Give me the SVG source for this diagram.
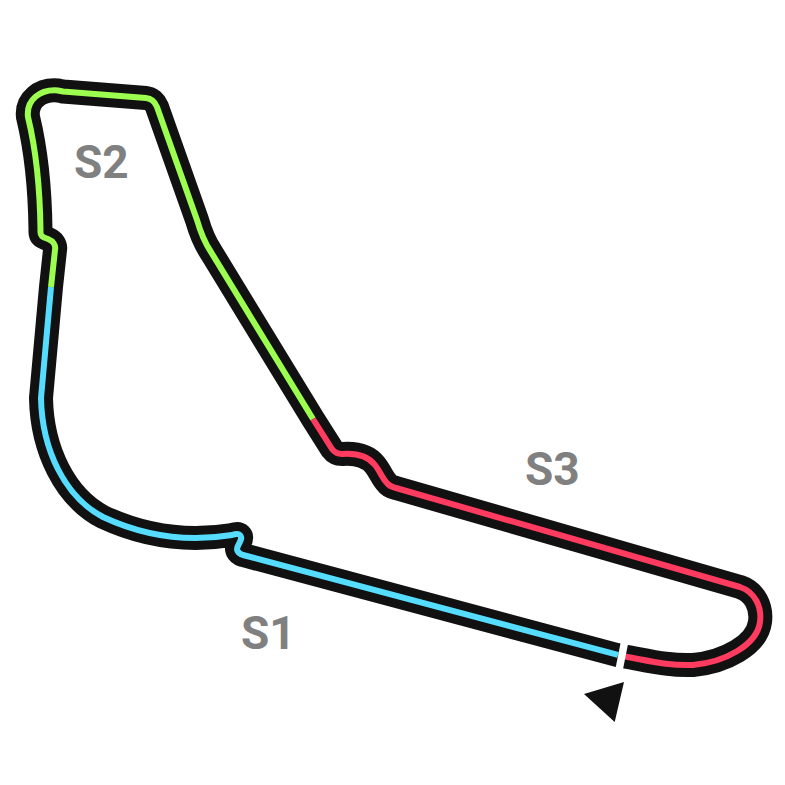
<svg xmlns="http://www.w3.org/2000/svg" width="785" height="785" viewBox="0 0 785 785">
<style>
.t{fill:none;stroke-linecap:butt;stroke-linejoin:round}
.c{stroke-width:6}
.l{font-family:Roboto,"Liberation Sans",sans-serif;font-weight:700;font-size:46px;fill:#808080}
</style>
<rect width="785" height="785" fill="#fff"/>
<g id="track">
<path id="outline" class="t" stroke="#111" stroke-width="24" d="M617 655 L243 555 C237 553 236 549 238 546 C240 541 243 538 240 535 C238 533 235 534 232 535 C195 541 150 539 103 517 C65 497 42 450 41 398 L51 287 L55 250 C56 245 53 241 48 239 C42 237 40 236 40.500 230 C40 190 36 150 28 117 C26 100 40 89 58 90.500 C60 91 61 91 63 91.500 L146 98 C151 98.500 155 102 157 107 L197 220 C201 234 205 243 211 252 L313 419 L332 449 C335 453 338 454 342 454 C355 453 367 455 375 465 C380 471 382 478 387 483 C389 486 392 487 396 488 L740 587 C755 592 762 607 760 622 C757 645 725 662 693 665 C670 666 650 661 625 656.500 L617 655 Z"/>
<path id="sector1" class="t c" stroke="#55dcff" d="M618 654.800 L243 555 C237 553 236 549 238 546 C240 541 243 538 240 535 C238 533 235 534 232 535 C195 541 150 539 103 517 C65 497 42 450 41 398 L51 287"/>
<path id="sector2" class="t c" stroke="#9cff4f" d="M51 287 L55 250 C56 245 53 241 48 239 C42 237 40 236 40.500 230 C40 190 36 150 28 117 C26 100 40 89 58 90.500 C60 91 61 91 63 91.500 L146 98 C151 98.500 155 102 157 107 L197 220 C201 234 205 243 211 252 L313 419"/>
<path id="sector3" class="t c" stroke="#ff3b5f" d="M313 419 L332 449 C335 453 338 454 342 454 C355 453 367 455 375 465 C380 471 382 478 387 483 C389 486 392 487 396 488 L740 587 C755 592 762 607 760 622 C757 645 725 662 693 665 C670 666 650 661 625 656.500"/>
<path id="start-line" fill="none" stroke="#fff" stroke-width="7.500" d="M625 640 L619 670"/>
</g>
<polygon id="start-arrow" fill="#111" points="584,694 624,682 614.700,722"/>
<g id="labels">
<text class="l" x="74" y="178">S2</text>
<text class="l" x="241" y="649">S1</text>
<text class="l" x="525" y="485">S3</text>
</g>
</svg>
